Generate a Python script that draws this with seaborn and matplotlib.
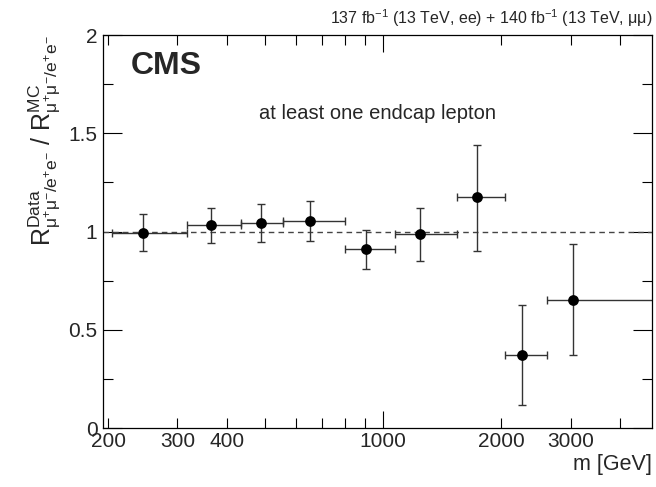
import numpy as np
import pandas as pd
import matplotlib
matplotlib.use("Agg")
import matplotlib.pyplot as plt
import seaborn as sns
from matplotlib.ticker import FixedLocator, FixedFormatter

# ---- data ----
mass = [245, 366, 490, 650, 905, 1240, 1730, 2255, 3045]
bin_lo = [205, 318, 436, 558, 802, 1073, 1542, 2047, 2604]
bin_hi = [318, 436, 558, 802, 1073, 1542, 2047, 2604, 6000]
ratio = [0.994, 1.032, 1.042, 1.055, 0.909, 0.986, 1.174, 0.372, 0.653]
err_up = [0.097, 0.089, 0.099, 0.102, 0.099, 0.135, 0.268, 0.255, 0.285]
err_dn = [0.095, 0.092, 0.097, 0.102, 0.098, 0.135, 0.272, 0.255, 0.282]

x_major = [1000]
x_minor = [200, 300, 400, 500, 600, 700, 800, 900, 2000, 3000, 4000]
x_labels = {200: "200", 300: "300", 400: "400", 1000: "1000", 2000: "2000", 3000: "3000"}
y_major = [0, 0.5, 1, 1.5, 2]
y_labels = ["0", "0.5", "1", "1.5", "2"]
y_minor = [0.25, 0.75, 1.25, 1.75]

df = pd.DataFrame({"mass": mass, "ratio": ratio})

sns.set_style("ticks")
plt.rcParams["font.family"] = ["Liberation Sans", "DejaVu Sans"]
plt.rcParams["mathtext.fontset"] = "custom"
plt.rcParams["mathtext.rm"] = "Liberation Sans"
plt.rcParams["mathtext.it"] = "Liberation Sans:italic"
plt.rcParams["mathtext.bf"] = "Liberation Sans:bold"

fig = plt.figure(figsize=(6.56, 4.87), dpi=100)
ax = fig.add_axes([0.157, 0.121, 0.837, 0.807])

ax.set_xscale("log")
ax.set_xlim(194, 4830)
ax.set_ylim(0, 2)

ax.axhline(1.0, color="#444444", ls=(0, (4, 3)), lw=1.0, zorder=1)

m = np.array(mass)
xerr = np.vstack([m - np.array(bin_lo), np.array(bin_hi) - m])
yerr = np.vstack([err_dn, err_up])
ax.errorbar(mass, ratio, xerr=xerr, yerr=yerr, fmt="none", ecolor="#333333",
            elinewidth=1.0, capsize=3, capthick=1.0, zorder=2)
sns.scatterplot(data=df, x="mass", y="ratio", ax=ax, color="black", s=60,
                edgecolor="black", linewidth=0, zorder=3)

# ticks
ax.xaxis.set_major_locator(FixedLocator(x_major))
ax.xaxis.set_minor_locator(FixedLocator(x_minor))
ax.xaxis.set_major_formatter(FixedFormatter([x_labels[v] for v in x_major]))
ax.xaxis.set_minor_formatter(FixedFormatter([x_labels.get(v, "") for v in x_minor]))
ax.yaxis.set_major_locator(FixedLocator(y_major))
ax.yaxis.set_minor_locator(FixedLocator(y_minor))
ax.yaxis.set_major_formatter(FixedFormatter(y_labels))

ax.tick_params(axis="both", which="both", direction="in", top=True, right=True,
               labelsize=15, color="black")
ax.tick_params(axis="x", which="major", length=12, width=0.8, pad=3)
ax.tick_params(axis="x", which="minor", length=7, width=0.8, pad=3)
ax.tick_params(axis="y", which="major", length=14, width=0.8, pad=4)
ax.tick_params(axis="y", which="minor", length=7, width=0.8)
for s in ax.spines.values():
    s.set_linewidth(0.9)
    s.set_color("black")

ax.set_xlabel("m [GeV]", fontsize=15.5, loc="right", labelpad=2)
ax.set_ylabel(r"$\mathrm{R}^{\mathrm{Data}}_{\mathrm{μ}^{+}\mathrm{μ}^{-}/\mathrm{e}^{+}\mathrm{e}^{-}}$ / "
              r"$\mathrm{R}^{\mathrm{MC}}_{\mathrm{μ}^{+}\mathrm{μ}^{-}/\mathrm{e}^{+}\mathrm{e}^{-}}$",
              fontsize=18, loc="top", labelpad=4)

ax.text(0.05, 0.96, "CMS", transform=ax.transAxes, fontsize=23,
        fontweight="bold", ha="left", va="top")
ax.text(0.5, 0.80, "at least one endcap lepton", transform=ax.transAxes,
        fontsize=14.5, ha="center", va="center")
fig.text(0.994, 0.94, r"137 fb$^{-1}$ (13 TeV, ee) + 140 fb$^{-1}$ (13 TeV, $\mathrm{μμ}$)",
         fontsize=11.5, ha="right", va="bottom")

fig.savefig("out.png", dpi=100)
